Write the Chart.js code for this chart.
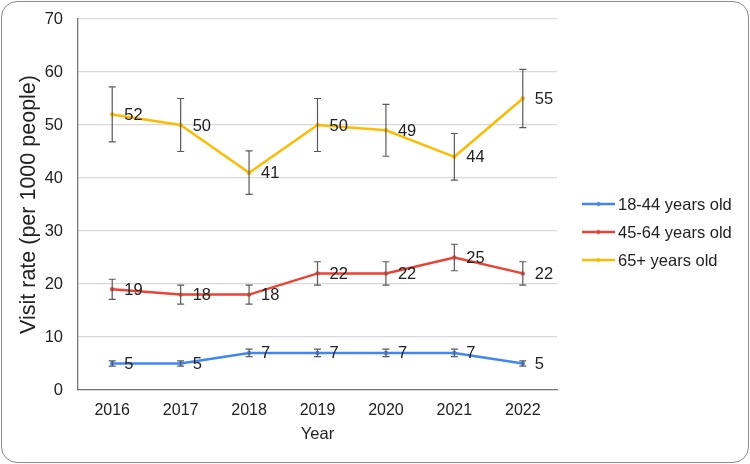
<!DOCTYPE html>
<html>
<head>
<meta charset="utf-8">
<script src="https://cdn.jsdelivr.net/npm/chart.js@4.4.1/dist/chart.umd.min.js"></script>
<style>
  body { margin: 0; background: #fff; }
  #wrap {
    position: absolute; left: 1px; top: 1px;
    width: 746px; height: 460px;
    border: 1px solid #8c8c8c; border-radius: 16px;
    overflow: hidden; background: #fff;
  }
</style>
</head>
<body>
<div id="wrap"><canvas id="myChart" width="746" height="460"></canvas></div>
<script>
// chart data
const years = ['2016', '2017', '2018', '2019', '2020', '2021', '2022'];
const seriesNames = ['18-44 years old', '45-64 years old', '65+ years old'];
const young = [5, 5, 7, 7, 7, 7, 5];
const middle = [19, 18, 18, 22, 22, 25, 22];
const older = [52, 50, 41, 50, 49, 44, 55];
// error bar half-widths
const youngErr = [0.5, 0.5, 0.7, 0.7, 0.7, 0.7, 0.5];
const middleErr = [1.9, 1.8, 1.8, 2.2, 2.2, 2.5, 2.2];
const olderErr = [5.2, 5.0, 4.1, 5.0, 4.9, 4.4, 5.5];
const yTicks = [0, 10, 20, 30, 40, 50, 60, 70];

const fontFamily = '"Liberation Sans", Arial, sans-serif';
const colors = ['#4285F4', '#EA4335', '#FBBC04'];

// error bars + value labels next to each point
const errorBarsPlugin = {
  id: 'errorBars',
  afterDatasetsDraw(chart) {
    const ctx = chart.ctx;
    const yScale = chart.scales.y;
    chart.data.datasets.forEach((ds, i) => {
      const meta = chart.getDatasetMeta(i);
      meta.data.forEach((pt, j) => {
        const v = ds.data[j];
        const e = ds.errors[j];
        const yTop = yScale.getPixelForValue(v + e);
        const yBot = yScale.getPixelForValue(v - e);
        ctx.save();
        ctx.strokeStyle = '#595959';
        ctx.lineWidth = 1.2;
        ctx.beginPath();
        ctx.moveTo(pt.x, yTop); ctx.lineTo(pt.x, yBot);
        ctx.moveTo(pt.x - 3.5, yTop); ctx.lineTo(pt.x + 3.5, yTop);
        ctx.moveTo(pt.x - 3.5, yBot); ctx.lineTo(pt.x + 3.5, yBot);
        ctx.stroke();
        ctx.fillStyle = '#222';
        ctx.font = '16.5px ' + fontFamily;
        ctx.textAlign = 'left';
        ctx.textBaseline = 'middle';
        ctx.fillText(String(v), pt.x + 12, pt.y + 1);
        ctx.restore();
      });
    });
  }
};

// legend on the right side
const sideLegendPlugin = {
  id: 'sideLegend',
  afterDraw(chart) {
    const ctx = chart.ctx;
    chart.data.datasets.forEach((ds, i) => {
      const y = 202 + i * 28;
      ctx.save();
      ctx.strokeStyle = ds.borderColor;
      ctx.lineWidth = 2.5;
      ctx.beginPath();
      ctx.moveTo(580, y); ctx.lineTo(613, y);
      ctx.stroke();
      ctx.fillStyle = ds.borderColor;
      ctx.beginPath();
      ctx.arc(596.5, y, 2, 0, Math.PI * 2);
      ctx.fill();
      ctx.fillStyle = '#222';
      ctx.font = '16.5px ' + fontFamily;
      ctx.textAlign = 'left';
      ctx.textBaseline = 'middle';
      ctx.fillText(ds.label, 616, y + 1);
      ctx.restore();
    });
  }
};

const ctx = document.getElementById('myChart').getContext('2d');
const chart = new Chart(ctx, {
  type: 'line',
  data: {
    labels: years,
    datasets: [
      { label: seriesNames[0], data: young, errors: youngErr, borderColor: colors[0], backgroundColor: colors[0] },
      { label: seriesNames[1], data: middle, errors: middleErr, borderColor: colors[1], backgroundColor: colors[1] },
      { label: seriesNames[2], data: older, errors: olderErr, borderColor: colors[2], backgroundColor: colors[2] }
    ]
  },
  options: {
    responsive: false,
    animation: false,
    layout: { padding: { left: 0, top: 17, right: 191, bottom: 0 } },
    elements: {
      line: { borderWidth: 2.5, tension: 0 },
      point: { radius: 2.2, borderWidth: 0 }
    },
    plugins: {
      legend: { display: false },
      tooltip: { enabled: false }
    },
    scales: {
      x: {
        offset: true,
        grid: { display: false, drawTicks: false },
        border: { color: '#777', width: 1.3 },
        ticks: { color: '#222', font: { family: fontFamily, size: 16 }, padding: 11, maxRotation: 0 },
        title: { display: true, text: 'Year', color: '#222', font: { family: fontFamily, size: 16.5 }, padding: { top: 4, bottom: 18 } },
        afterFit(scale) { scale.height = 72; }
      },
      y: {
        min: 0,
        max: 70,
        afterBuildTicks(scale) { scale.ticks = yTicks.map(v => ({ value: v })); },
        grid: { color: '#d9d9d9', drawTicks: false, lineWidth: 1.2 },
        border: { color: '#777', width: 1.3 },
        ticks: { color: '#222', font: { family: fontFamily, size: 16.5 }, padding: 15 },
        title: { display: true, text: 'Visit rate (per 1000 people)', color: '#222', font: { family: fontFamily, size: 21.5 }, padding: { top: 14, bottom: 0 } },
        afterFit(scale) {
          scale.width = 76;
          scale.paddingTop = 0;
          scale.paddingBottom = 0;
        }
      }
    }
  },
  plugins: [errorBarsPlugin, sideLegendPlugin]
});
</script>
</body>
</html>
